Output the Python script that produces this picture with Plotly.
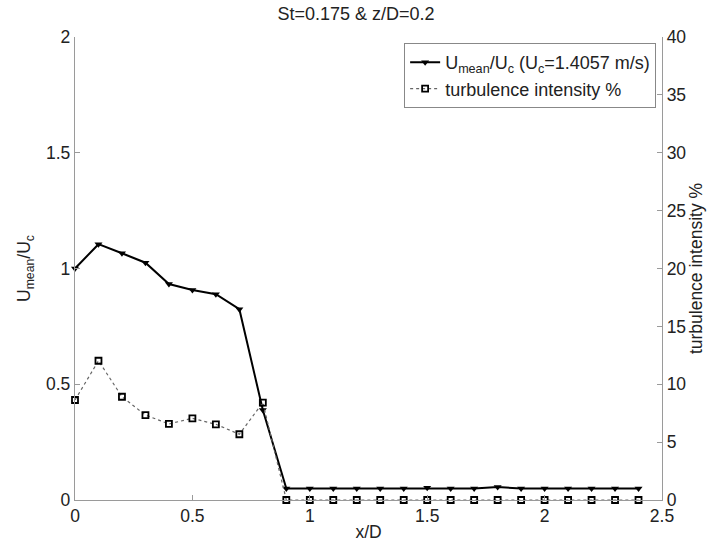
import plotly.graph_objects as go

x_d = [0.0, 0.1, 0.2, 0.3, 0.4, 0.5, 0.6, 0.7, 0.8, 0.9, 1.0, 1.1, 1.2,
       1.3, 1.4, 1.5, 1.6, 1.7, 1.8, 1.9, 2.0, 2.1, 2.2, 2.3, 2.4]
u_ratio = [1.0, 1.105, 1.066, 1.025, 0.933, 0.907, 0.889, 0.824, 0.389,
           0.05, 0.05, 0.05, 0.05, 0.05, 0.05, 0.053, 0.05, 0.05, 0.056,
           0.05, 0.05, 0.05, 0.05, 0.05, 0.05]
turb = [8.64, 12.03, 8.92, 7.34, 6.57, 7.06, 6.54, 5.68, 8.41,
        0, 0, 0, 0, 0, 0, 0, 0, 0, 0, 0, 0, 0, 0, 0, 0]

x_ticks = [0, 0.5, 1, 1.5, 2, 2.5]
x_ticklabels = ["0", "0.5", "1", "1.5", "2", "2.5"]
y1_ticks = [0, 0.5, 1, 1.5, 2]
y1_ticklabels = ["0", "0.5", "1", "1.5", "2"]
y2_ticks = [0, 5, 10, 15, 20, 25, 30, 35, 40]

FONT = "Liberation Sans, Arial, sans-serif"
TXT = "#222222"
AX = "#9a9a9a"

fig = go.Figure()
fig.add_trace(go.Scatter(
    x=x_d, y=u_ratio, mode="lines+markers",
    name="U<sub>mean</sub>/U<sub>c</sub> (U<sub>c</sub>=1.4057 m/s)",
    line=dict(color="black", width=2),
    marker=dict(symbol="triangle-down", size=7, color="black"),
    cliponaxis=False, yaxis="y"))
fig.add_trace(go.Scatter(
    x=x_d, y=turb, mode="lines+markers",
    name="turbulence intensity %",
    line=dict(color="#666666", width=1.2, dash="dot"),
    marker=dict(symbol="square-open", size=6, color="black",
                line=dict(width=1.8, color="black")),
    cliponaxis=False, yaxis="y2"))

fig.update_layout(
    width=712, height=549,
    margin=dict(l=75, r=50, t=37, b=49),
    paper_bgcolor="white", plot_bgcolor="white",
    font=dict(family=FONT, size=17, color=TXT),
    title=dict(text="St=0.175 & z/D=0.2", x=0.5, xanchor="center",
               y=1 - 14 / 549, yanchor="middle",
               font=dict(family=FONT, size=18, color=TXT)),
    xaxis=dict(range=[0, 2.5], tickvals=x_ticks, ticktext=x_ticklabels,
               showgrid=False, zeroline=False, showline=True,
               linecolor=AX, linewidth=1.3, ticks="inside", ticklen=5,
               tickcolor=AX, tickfont=dict(size=17.5), automargin=False,
               title=dict(text="x/D", standoff=0, font=dict(size=17.5))),
    yaxis=dict(range=[0, 2], tickvals=y1_ticks, ticktext=y1_ticklabels,
               showgrid=False, zeroline=False, showline=True,
               linecolor=AX, linewidth=1.3, ticks="inside", ticklen=5,
               tickcolor=AX, tickfont=dict(size=17.5), automargin=False,
               title=dict(text="U<sub>mean</sub>/U<sub>c</sub>", standoff=10,
                          font=dict(size=17.5))),
    yaxis2=dict(range=[0, 40], tickvals=y2_ticks, overlaying="y",
                side="right", anchor="x",
                showgrid=False, zeroline=False, showline=True,
                linecolor=AX, linewidth=1.3, ticks="inside", ticklen=5,
                tickcolor=AX, tickfont=dict(size=17.5), automargin=False,
                title=dict(text="turbulence intensity %", standoff=4,
                           font=dict(size=17.5))),
    legend=dict(x=0.99, xanchor="right", y=0.987, yanchor="top",
                bgcolor="white", bordercolor="#888888", borderwidth=1,
                font=dict(family=FONT, size=18, color=TXT),
                tracegroupgap=0),
    showlegend=True,
)

fig.write_html("out.html")
